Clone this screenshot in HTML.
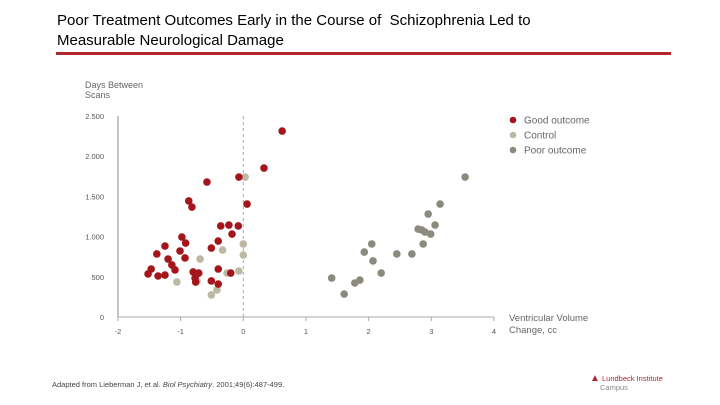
<!DOCTYPE html>
<html><head><meta charset="utf-8"><style>
body{margin:0;width:720px;height:405px;background:#fff;overflow:hidden;font-family:"Liberation Sans",sans-serif;position:relative}
.t{position:absolute;left:57px;top:11px;font-size:15px;line-height:20px;color:#000}
.rule{position:absolute;left:56px;top:52px;width:615px;height:3px;background:#b0282c}
.foot{position:absolute;left:52px;top:380px;font-size:7.5px;color:#444}
.logo{position:absolute;left:590px;top:374px;font-size:7.5px;color:#b0282c;line-height:9px}
</style></head><body>
<div class="t">Poor Treatment Outcomes Early in the Course of &nbsp;Schizophrenia Led to<br>Measurable Neurological Damage</div>
<div class="rule"></div>
<svg id="c" width="720" height="405" style="position:absolute;left:0;top:0"></svg>
<div class="foot">Adapted from Lieberman J, et al. <i>Biol Psychiatry</i>. 2001;49(6):487-499.</div>
<div class="logo"><span style="font-size:10px">▲</span> Lundbeck Institute<br><span style="color:#888;padding-left:10px">Campus</span></div>
<script>
const xTicks=[-2,-1,0,1,2,3,4];
const yTicks=[0,500,1000,1500,2000,2500];
const yTickLabels=["0","500","1.000","1.500","2.000","2.500"];
const goodX=[0.62,0.33,-0.07,0.06,-0.58,-0.87,-0.82,-0.36,-0.23,-0.08,-0.18,-0.98,-0.92,-1.01,-0.93,-0.40,-0.51,-1.38,-1.25,-1.20,-1.14,-1.09,-1.47,-1.52,-1.36,-1.25,-0.80,-0.74,-0.71,-0.77,-0.40,-0.51,-0.20,-0.40,-0.76];
const goodY=[2313,1853,1741,1405,1679,1443,1368,1132,1144,1132,1032,995,920,821,734,945,858,784,883,721,647,585,597,535,510,522,560,535,547,485,410,448,547,597,435];
const ctrlX=[0.03,0,0,-0.07,-0.26,-0.33,-0.69,-1.06,-0.74,-0.42,-0.51];
const ctrlY=[1741,908,771,572,547,833,721,435,448,336,274];
const poorX=[3.54,3.14,2.95,3.06,2.79,2.85,2.90,2.99,2.87,2.05,1.93,2.07,2.45,2.69,2.20,1.41,1.78,1.86,1.61];
const poorY=[1741,1405,1281,1144,1094,1082,1057,1032,908,908,808,697,784,784,547,485,423,460,286];
const svg=document.getElementById('c');const NS='http://www.w3.org/2000/svg';
const X=v=>243.3+v*62.67, Y=v=>317-v*0.0804;
function mk(t,a,p){const e=document.createElementNS(NS,t);for(const k in a)e.setAttribute(k,a[k]);(p||svg).appendChild(e);return e;}
const ax=mk('line',{x1:118,y1:116,x2:118,y2:317,stroke:'#888','stroke-width':1});


const bx=mk('line',{x1:118,y1:317,x2:494,y2:317,stroke:'#aaa','stroke-width':1});


const zl=mk('line',{x1:X(0),y1:116,x2:X(0),y2:317,stroke:'#aaa','stroke-dasharray':'3,3'});


xTicks.forEach(v=>{mk('line',{x1:X(v),y1:317,x2:X(v),y2:321,stroke:'#aaa'});
const t=mk('text',{x:X(v),y:334,'font-size':7.5,fill:'#555','text-anchor':'middle'});t.textContent=v;

});
yTicks.forEach((v,i)=>{const t=mk('text',{x:104,y:Y(v)+3,'font-size':7.5,fill:'#555','text-anchor':'end'});t.textContent=yTickLabels[i];

});
const yt=mk('text',{x:85,y:88,'font-size':9,fill:'#666'});yt.innerHTML='<tspan x="85">Days Between</tspan><tspan x="85" dy="10">Scans</tspan>';


const xt=mk('text',{x:509,y:321,'font-size':9.5,fill:'#666'});xt.innerHTML='<tspan x="509">Ventricular Volume</tspan><tspan x="509" dy="12">Change, cc</tspan>';


function series(xs,ys,col,name){xs.forEach((v,i)=>{const c=mk('circle',{cx:X(v),cy:Y(ys[i]),r:3.8,fill:col});

});}
series(ctrlX,ctrlY,'#bdb8a4','point-control');
series(poorX,poorY,'#8c8a7c','point-poor-outcome');
series(goodX,goodY,'#a5161c','point-good-outcome');
[['Good outcome','#a5161c',120],['Control','#bdb8a4',135],['Poor outcome','#8c8a7c',150]].forEach(d=>{
const g=mk('g',{});


mk('circle',{cx:513,cy:d[2],r:3.3,fill:d[1]},g);const t=mk('text',{x:524,y:d[2]+3.5,'font-size':10,fill:'#666'},g);t.textContent=d[0];});
</script>
</body></html>
